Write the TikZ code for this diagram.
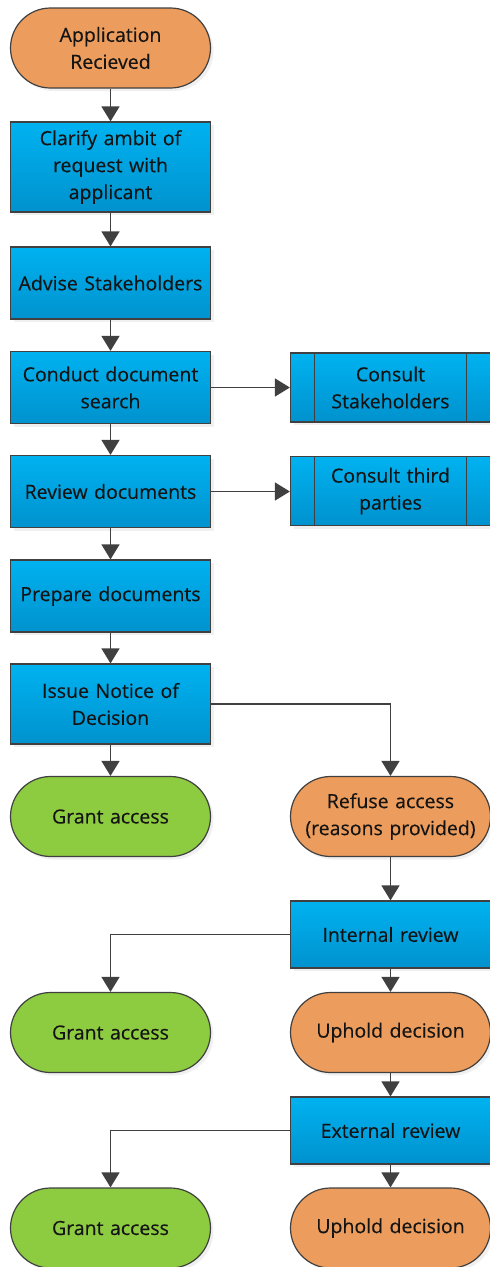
\documentclass[tikz,border=0pt]{standalone}
\usepackage{fontspec}
\newfontfamily\boxfont{Open Sans}[FakeBold=0.3]
\usetikzlibrary{positioning,arrows.meta,shadows}
\definecolor{termorange}{RGB}{236,156,92}
\definecolor{termgreen}{RGB}{141,203,65}
\definecolor{boxtop}{RGB}{0,178,240}
\definecolor{boxbottom}{RGB}{0,146,206}
\definecolor{edgegray}{RGB}{64,64,64}
\definecolor{textgray}{RGB}{20,20,20}

\begin{document}
\begin{tikzpicture}[x=1pt, y=-1pt,
  font=\boxfont\fontsize{19.5}{27}\selectfont, text=textgray,
  base/.style={draw=edgegray, line width=1.2pt, text width=195pt, align=center,
    minimum width=200pt, inner sep=0pt,
    drop shadow={opacity=0.12, shadow xshift=3pt, shadow yshift=-3pt}},
  process/.style={base, rectangle, top color=boxtop, bottom color=boxbottom,
    minimum height=72pt},
  terminal/.style={base, rectangle, rounded corners=40pt, minimum height=80pt},
  subprocess/.style={process, text width=150pt, minimum height=69pt,
    path picture={\draw[edgegray, line width=1.2pt]
      ([xshift=24pt]path picture bounding box.north west) --
      ([xshift=24pt]path picture bounding box.south west)
      ([xshift=-24pt]path picture bounding box.north east) --
      ([xshift=-24pt]path picture bounding box.south east);}},
  flow/.style={draw=edgegray, line width=1.4pt,
    -{Triangle[width=18pt,length=15pt]}}
]
\useasboundingbox (0,0) rectangle (490,1267);

% main column
\node[terminal, fill=termorange] (received) at (110.5,48) {Application\\Recieved};
\node[process, minimum height=90pt] (clarify) at (110.5,167) {Clarify ambit of\\request with\\applicant};
\node[process] (advise) at (110.5,283) {Advise Stakeholders};
\node[process] (search) at (110.5,387.5) {Conduct document\\search};
\node[process] (review) at (110.5,491.5) {Review documents};
\node[process] (prepare) at (110.5,596) {Prepare documents};
\node[process, minimum height=80pt] (notice) at (110.5,704) {Issue Notice of\\Decision};
\node[terminal, fill=termgreen] (grant1) at (110.5,816.5) {Grant access};

% consultations
\node[subprocess] (consultsh) at (390.5,387.5) {Consult\\Stakeholders};
\node[subprocess] (consulttp) at (390.5,491) {Consult third\\parties};

% refusal and reviews
\node[terminal, fill=termorange] (refuse) at (390.5,816.5) {Refuse access\\(reasons provided)};
\node[process, minimum height=67pt] (internal) at (390.5,934.5) {Internal review};
\node[terminal, fill=termgreen] (grant2) at (110.5,1032.5) {Grant access};
\node[terminal, fill=termorange] (uphold1) at (390.5,1032.5) {Uphold decision};
\node[process, minimum height=67pt] (external) at (390.5,1130.5) {External review};
\node[terminal, fill=termgreen] (grant3) at (110.5,1228) {Grant access};
\node[terminal, fill=termorange] (uphold2) at (390.5,1228) {Uphold decision};

\draw[flow] (received) -- (clarify);
\draw[flow] (clarify) -- (advise);
\draw[flow] (advise) -- (search);
\draw[flow] (search) -- (review);
\draw[flow] (review) -- (prepare);
\draw[flow] (prepare) -- (notice);
\draw[flow] (notice) -- (grant1);
\draw[flow] (search) -- (consultsh);
\draw[flow] (review) -- (review -| consulttp.west);
\draw[flow] (notice.east) -| (refuse.north);
\draw[flow] (refuse) -- (internal);
\draw[flow] (internal.west) -| (grant2.north);
\draw[flow] (internal) -- (uphold1);
\draw[flow] (uphold1) -- (external);
\draw[flow] (external.west) -| (grant3.north);
\draw[flow] (external) -- (uphold2);
\end{tikzpicture}
\end{document}
